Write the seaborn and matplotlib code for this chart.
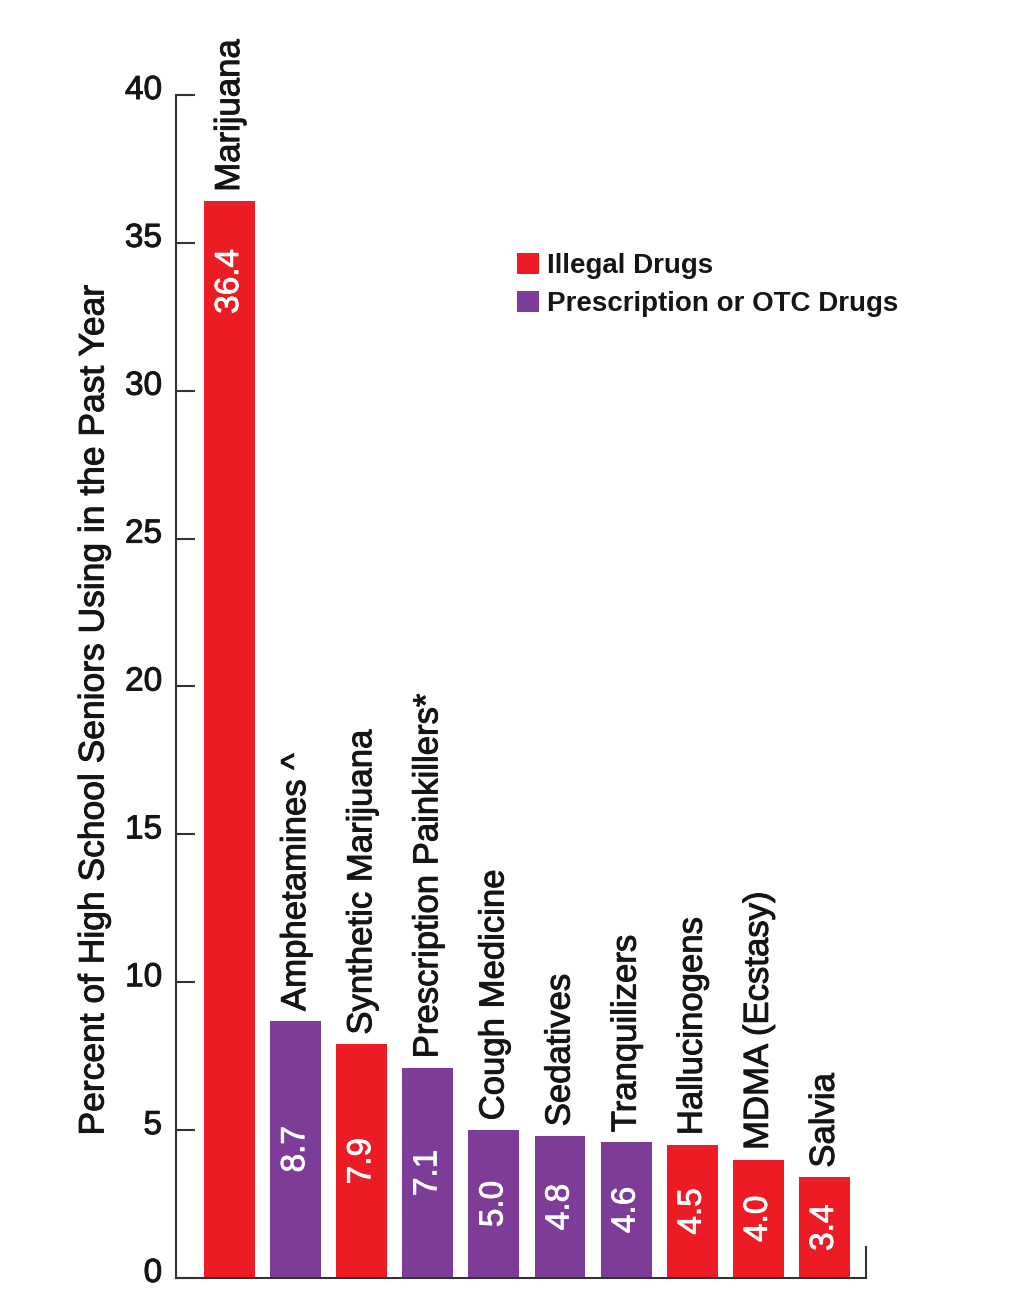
import matplotlib
matplotlib.use("Agg")
import matplotlib.pyplot as plt
import matplotlib.transforms as mtransforms
import matplotlib.patheffects as pe
import seaborn as sns
import pandas as pd
from matplotlib.patches import Patch

categories = ["Marijuana", "Amphetamines ^", "Synthetic Marijuana", "Prescription Painkillers*",
              "Cough Medicine", "Sedatives", "Tranquilizers", "Hallucinogens",
              "MDMA (Ecstasy)", "Salvia"]
values = [36.4, 8.7, 7.9, 7.1, 5.0, 4.8, 4.6, 4.5, 4.0, 3.4]
groups = ["Illegal Drugs", "Prescription or OTC Drugs", "Illegal Drugs", "Prescription or OTC Drugs",
          "Prescription or OTC Drugs", "Prescription or OTC Drugs", "Prescription or OTC Drugs",
          "Illegal Drugs", "Illegal Drugs", "Illegal Drugs"]
group_names = ["Illegal Drugs", "Prescription or OTC Drugs"]
colors = {"Illegal Drugs": "#ED1C24", "Prescription or OTC Drugs": "#7D3C98"}
yticks = [0, 5, 10, 15, 20, 25, 30, 35, 40]
ylabel = "Percent of High School Seniors Using in the Past Year"

df = pd.DataFrame({"cat": categories, "val": values, "grp": groups})

sns.set_style("white")
plt.rcParams["font.family"] = ["Liberation Sans", "DejaVu Sans"]

dark = "#151515"
stroke_dark = [pe.withStroke(linewidth=0.7, foreground=dark)]
stroke_white = [pe.withStroke(linewidth=0.6, foreground="white")]

fig = plt.figure(figsize=(10.18, 13.16), dpi=100)
ax = fig.add_axes([0.1729, 0.0289, 0.6778, 0.8989])

sns.barplot(data=df, x="cat", y="val", hue="grp", palette=colors, dodge=False,
            width=0.77, saturation=1, ax=ax, legend=False, linewidth=0)

ax.set_xlim(-0.81, 9.63)
ax.set_ylim(0, 40)
ax.set_yticks(yticks)
ax.set_yticklabels([str(t) for t in yticks], fontsize=24, color=dark)
ax.tick_params(axis="y", direction="in", length=14, width=1.5, color="#333333", pad=10, left=True)
ax.tick_params(axis="x", bottom=False, labelbottom=False)
shift = mtransforms.ScaledTranslation(0, 8 / 100, fig.dpi_scale_trans)
for lbl in ax.get_yticklabels():
    lbl.set_transform(lbl.get_transform() + shift)
    lbl.set_path_effects(stroke_dark)
ax.set_xlabel("")
ax.set_ylabel(ylabel, fontsize=25.5, color=dark, path_effects=stroke_dark)
ax.yaxis.set_label_coords(-0.095, 0.48)

ax.spines["top"].set_visible(False)
for s in ["left", "bottom", "right"]:
    ax.spines[s].set_color("#333333")
    ax.spines[s].set_linewidth(1.5)
ax.spines["right"].set_bounds(0, 1.05)

for i, (c, v) in enumerate(zip(categories, values)):
    ax.annotate(c, xy=(i, v), xytext=(0, 7), textcoords="offset points",
                rotation=90, ha="center", va="bottom", fontsize=25, color=dark,
                path_effects=stroke_dark)
    ypos = v - 2.7 if v > 20 else v / 2
    ax.text(i, ypos, f"{v:.1f}", rotation=90, ha="center", va="center",
            fontsize=24, color="white", path_effects=stroke_white)

handles = [Patch(facecolor=colors[g], edgecolor="none") for g in group_names]
leg = fig.legend(handles, group_names, loc="upper left", bbox_to_anchor=(0.508, 0.808),
                 frameon=False, prop={"size": 20, "weight": "bold"},
                 handlelength=0.78, handleheight=0.78, handletextpad=0.3,
                 labelspacing=0.45, borderpad=0, borderaxespad=0)
for t in leg.get_texts():
    t.set_color(dark)

fig.savefig("out.png", dpi=100)
